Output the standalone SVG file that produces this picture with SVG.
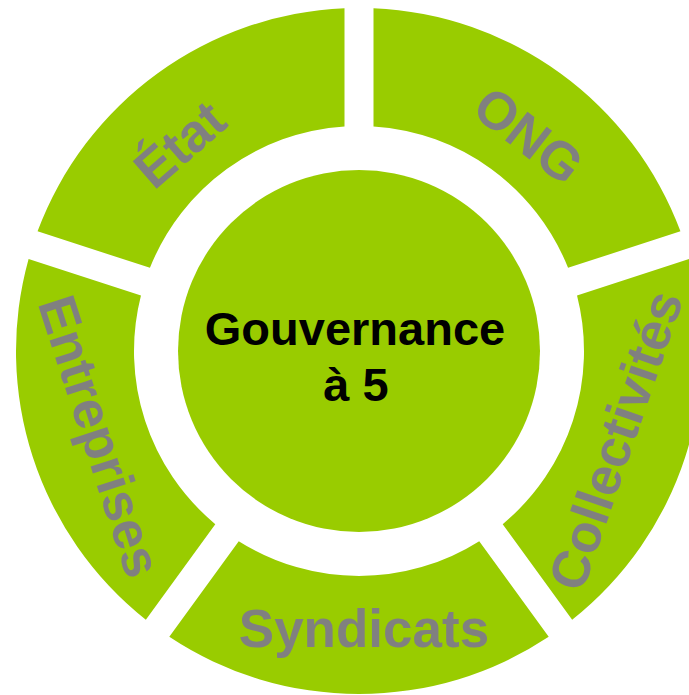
<svg xmlns="http://www.w3.org/2000/svg" width="689" height="695" viewBox="0 0 689 695">
<style>
.seg{fill:#99CC00;}
.lbl{font-family:"Liberation Sans",Arial,sans-serif;font-weight:bold;font-size:53px;fill:#808080;text-anchor:middle;}
.ctr{font-family:"Liberation Sans",Arial,sans-serif;font-weight:bold;font-size:47px;fill:#000000;text-anchor:middle;}
</style>
<rect width="689" height="695" fill="#FFFFFF"/>
<g id="connectors"></g>
<g id="seg-ong">
<path class="seg" d="M373.5,8.31 A343,343 0 0 1 680.44,231.31 L568.06,267.82 A225,225 0 0 0 373.5,126.47 Z"/>
<text class="lbl" transform="translate(529,135) rotate(38)" x="0" y="19">ONG</text>
</g>
<g id="seg-collectivites">
<path class="seg" d="M689.4,258.89 A343,343 0 0 1 572.16,619.72 L502.71,524.13 A225,225 0 0 0 577.03,295.41 Z"/>
<text class="lbl" transform="translate(615,440) rotate(-71)" x="0" y="19">Collectivités</text>
</g>
<g id="seg-syndicats">
<path class="seg" d="M548.7,636.77 A343,343 0 0 1 169.3,636.77 L238.75,541.17 A225,225 0 0 0 479.25,541.17 Z"/>
<text class="lbl" x="364" y="647">Syndicats</text>
</g>
<g id="seg-entreprises">
<path class="seg" d="M145.84,619.72 A343,343 0 0 1 28.6,258.89 L140.97,295.41 A225,225 0 0 0 215.29,524.13 Z"/>
<text class="lbl" transform="translate(95,438) rotate(72)" x="0" y="13">Entreprises</text>
</g>
<g id="seg-etat">
<path class="seg" d="M37.56,231.31 A343,343 0 0 1 344.5,8.31 L344.5,126.47 A225,225 0 0 0 149.94,267.82 Z"/>
<text class="lbl" transform="translate(176,140) rotate(-41)" x="0" y="24">État</text>
</g>
<g id="center">
<circle cx="359" cy="351" r="181" fill="#99CC00"/>
<text class="ctr" x="355" y="345">Gouvernance</text>
<text class="ctr" x="356" y="401">à 5</text>
</g>
</svg>
